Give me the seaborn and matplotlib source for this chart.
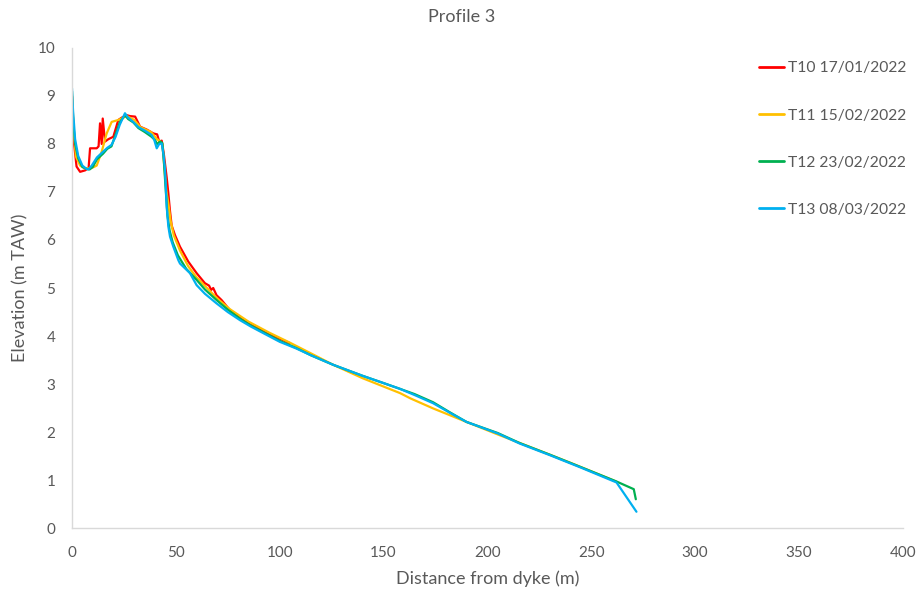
import pandas as pd
import matplotlib
matplotlib.use("Agg")
import matplotlib.pyplot as plt
import seaborn as sns

# Profiel 3 - metingen (afstand tot dijk, hoogte m TAW)
t10_x = [0, 1, 2.2, 3.9, 6.3, 8, 8.7, 11.9, 12.8, 13.5, 14.3, 14.8, 15.9, 17.5, 19.9, 22.3, 24, 26.4, 28,
         30.4, 32.8, 36, 39.2, 41, 42, 43.2, 44.2, 45.6, 46.4, 47.2, 48, 49.6, 52, 56, 60, 64, 66, 67, 68,
         69.6, 72, 76, 82, 88.9, 96, 105]
t10_y = [9.0, 8.0, 7.53, 7.42, 7.45, 7.5, 7.91, 7.91, 7.95, 8.43, 8.0, 8.53, 8.05, 8.1, 8.15, 8.5, 8.55, 8.6,
         8.58, 8.57, 8.36, 8.3, 8.22, 8.2, 8.05, 8.07, 7.8, 7.3, 6.97, 6.6, 6.3, 6.1, 5.86, 5.55, 5.31, 5.1,
         5.05, 4.96, 5.0, 4.85, 4.75, 4.54, 4.35, 4.19, 4.02, 3.85]

t11_x = [0, 1, 1.9, 3.9, 6, 8.7, 10.5, 11.9, 14.3, 16.7, 19.1, 22.3, 26.4, 30, 33, 38, 41, 42.5, 43.5, 44.5,
         45.5, 46.4, 47.5, 49, 52, 56, 60, 65, 70, 76, 85, 95, 105, 115, 125.8, 140, 158, 163, 174, 190,
         205, 220.5, 240, 262]
t11_y = [9.0, 8.2, 7.74, 7.55, 7.5, 7.49, 7.52, 7.55, 7.84, 8.22, 8.46, 8.5, 8.58, 8.5, 8.35, 8.25, 8.1, 8.05,
         8.0, 7.5, 7.0, 6.76, 6.4, 6.1, 5.78, 5.45, 5.22, 5.0, 4.78, 4.56, 4.3, 4.07, 3.86, 3.64, 3.40, 3.12,
         2.81, 2.70, 2.49, 2.21, 1.95, 1.69, 1.36, 0.97]

t12_x = [0, 0.5, 1.5, 3, 5, 7, 8.5, 10, 12, 15, 17, 19, 21, 23, 25.5, 27, 29.5, 32, 35, 38.3, 40, 41, 42.5,
         43.5, 44.3, 45.2, 46, 47, 48.5, 51, 55, 60, 64, 69.6, 75, 80.9, 86, 92.1, 100, 108, 115, 125.8, 140,
         150, 157.9, 165, 173.9, 182, 190, 205, 215.6, 230, 245, 262.2, 270.5, 271.5]
t12_y = [9.1, 8.5, 8.0, 7.7, 7.52, 7.48, 7.47, 7.52, 7.68, 7.8, 7.9, 7.95, 8.2, 8.45, 8.6, 8.52, 8.45, 8.33,
         8.25, 8.15, 8.08, 8.0, 8.05, 8.02, 7.6, 7.0, 6.5, 6.2, 5.95, 5.68, 5.4, 5.17, 4.97, 4.75, 4.55, 4.36,
         4.22, 4.08, 3.9, 3.75, 3.6, 3.40, 3.17, 3.02, 2.90, 2.79, 2.62, 2.41, 2.21, 1.98, 1.77, 1.53, 1.27,
         0.97, 0.81, 0.6]

t13_x = [0, 0.5, 1.5, 3, 5, 7, 7.9, 9.5, 12, 15, 17, 19, 21, 23, 25.5, 27, 29.5, 32, 35, 38.3, 39.5, 40.8,
         42, 43.2, 44, 44.8, 45.6, 46.4, 47.2, 48.8, 51.2, 52, 56.8, 60, 64, 69.6, 75, 80.9, 86, 92.1, 100,
         108, 115, 125.8, 140, 150, 157.9, 165, 173.9, 182, 190, 205, 215.6, 230, 245, 262.2, 271.8]
t13_y = [9.16, 8.7, 8.1, 7.75, 7.55, 7.48, 7.47, 7.55, 7.72, 7.84, 7.92, 7.98, 8.15, 8.4, 8.64, 8.55, 8.46,
         8.35, 8.28, 8.19, 8.1, 7.91, 8.0, 8.01, 7.8, 7.46, 6.69, 6.28, 6.07, 5.86, 5.58, 5.51, 5.31, 5.06,
         4.88, 4.68, 4.5, 4.33, 4.2, 4.06, 3.88, 3.74, 3.6, 3.40, 3.17, 3.02, 2.90, 2.77, 2.60, 2.4, 2.21,
         1.97, 1.76, 1.52, 1.26, 0.95, 0.34]

labels = ["T10 17/01/2022", "T11 15/02/2022", "T12 23/02/2022", "T13 08/03/2022"]
colors = ["#FF0000", "#FFC000", "#00B050", "#00B0F0"]

frames = []
for lab, xs, ys in zip(labels, [t10_x, t11_x, t12_x, t13_x], [t10_y, t11_y, t12_y, t13_y]):
    frames.append(pd.DataFrame({"dist": xs, "elev": ys, "survey": lab}))
df = pd.concat(frames, ignore_index=True)

sns.set_style("white")
plt.rcParams["font.family"] = ["Lato", "DejaVu Sans"]
grey = "#595959"

fig, ax = plt.subplots(figsize=(9.23, 5.92), dpi=100)
fig.subplots_adjust(left=0.078, right=0.978, top=0.919, bottom=0.108)

sns.lineplot(data=df, x="dist", y="elev", hue="survey", hue_order=labels, palette=colors,
             sort=False, estimator=None, linewidth=1.6, ax=ax, legend=False)

ax.set_xlim(0, 400)
ax.set_ylim(0, 10)
ax.set_xticks(range(0, 401, 50))
ax.set_yticks(range(0, 11, 1))
ax.set_xlabel("Distance from dyke (m)", color=grey, fontsize=13)
ax.set_ylabel("Elevation (m TAW)", color=grey, fontsize=13)
ax.xaxis.set_label_coords(0.5, -0.088)
ax.yaxis.set_label_coords(-0.0525, 0.5)
ax.tick_params(colors=grey, labelsize=11, length=4, width=0.8, direction="out")
ax.tick_params(axis="both", color="#d9d9d9")
ax.tick_params(axis="x", pad=9)
ax.tick_params(axis="y", pad=8)
sns.despine(ax=ax)
for s in ["left", "bottom"]:
    ax.spines[s].set_color("#d9d9d9")
    ax.spines[s].set_linewidth(1)

fig.suptitle("Profile 3", color=grey, fontsize=13, y=0.985)

handles = [plt.Line2D([], [], color=c, linewidth=2) for c in colors]
fig.legend(handles, labels, loc="upper left", bbox_to_anchor=(0.8075, 0.92), frameon=False,
           labelspacing=2.12, handlelength=1.6, handletextpad=0.25, fontsize=11.25, labelcolor=grey)

fig.savefig("out.png", dpi=100)
